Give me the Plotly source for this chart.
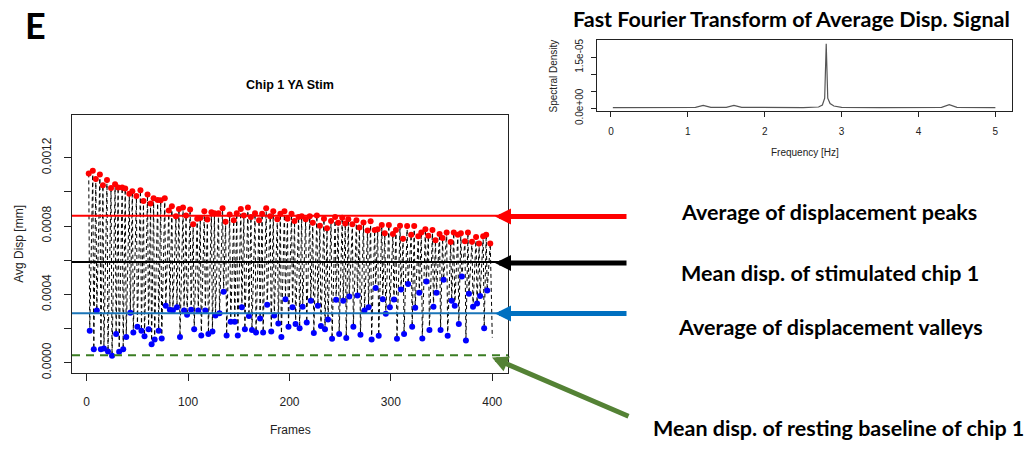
import plotly.graph_objects as go

# ---------------- data ----------------
peak_frames = [2, 6, 9, 13, 16, 20, 24, 28, 31, 35, 38, 42, 45, 49, 53, 56, 60, 63, 66, 70,
               73, 77, 81, 84, 88, 91, 95, 98, 102, 105, 109, 112, 116, 119, 123, 126, 130, 134, 137, 141,
               145, 148, 152, 155, 159, 162, 166, 170,
               173, 177, 181, 184, 188, 191, 195, 198, 202, 205, 209, 212, 216, 220, 223, 227, 230, 234, 237, 241,
               245, 248, 252, 255, 258, 262, 266, 269, 273, 277, 280, 284, 287, 291, 294, 298, 302, 305, 309, 312,
               316, 320, 323, 327, 330, 334, 337, 341, 344, 348, 351, 355, 359, 362, 366, 369, 373, 376, 380, 384,
               387, 391, 394, 398]
peak_values = [0.001108, 0.001123, 0.001075, 0.001102, 0.001038, 0.001070, 0.001023, 0.001045, 0.001026, 0.001026,
               0.001019, 0.000989, 0.001004, 0.000975, 0.001009, 0.000947, 0.000985, 0.000932, 0.000962, 0.000953,
               0.000951, 0.000962, 0.000891, 0.000915, 0.000857, 0.000900, 0.000909, 0.000862, 0.000896, 0.000811,
               0.000843, 0.000847, 0.000887, 0.000838, 0.000881, 0.000875, 0.000875, 0.000904, 0.000825, 0.000868,
               0.000834, 0.000875, 0.000900, 0.000862, 0.000909, 0.000853, 0.000875, 0.000834,
               0.000872, 0.000904, 0.000857, 0.000887, 0.000840, 0.000872, 0.000887, 0.000843, 0.000872, 0.000830,
               0.000853, 0.000857, 0.000840, 0.000857, 0.000819, 0.000862, 0.000802, 0.000843, 0.000787, 0.000830,
               0.000853, 0.000819, 0.000849, 0.000815, 0.000840, 0.000811, 0.000834, 0.000792, 0.000821, 0.000774,
               0.000828, 0.000777, 0.000781, 0.000806, 0.000758, 0.000806, 0.000753, 0.000777, 0.000802, 0.000725,
               0.000800, 0.000749, 0.000800, 0.000740, 0.000762, 0.000781, 0.000743, 0.000777, 0.000717, 0.000753,
               0.000730, 0.000762, 0.000706, 0.000762, 0.000749, 0.000758, 0.000711, 0.000762, 0.000708, 0.000736,
               0.000698, 0.000740, 0.000749, 0.000698]

valley_frames = [3, 7, 10, 14, 17, 21, 25, 29, 32, 36, 39, 43, 46, 50, 54, 57, 61, 64, 67, 71,
                 74, 78, 82, 85, 89, 92, 96, 99, 103, 106, 110, 113, 117, 120, 124, 127, 131, 135, 138, 142,
                 146, 149, 153, 156, 160, 163, 167, 171,
                 174, 178, 182, 185, 189, 192, 196, 199, 203, 206, 210, 213, 217, 221, 224, 228, 231, 235, 238, 242,
                 246, 249, 253, 256, 259, 263, 267, 270, 274, 278, 281, 285, 288, 292, 295, 299, 303, 306, 310, 313,
                 317, 321, 324, 328, 331, 335, 338, 342, 345, 349, 352, 356, 360, 363, 367, 370, 374, 377, 381, 385,
                 388, 392, 395]
valley_values = [0.000187, 0.000079, 0.000306, 0.000079, 0.000083, 0.000066, 0.000041, 0.000168, 0.000064, 0.000079,
                 0.000151, 0.000292, 0.000177, 0.000211, 0.000187, 0.000155, 0.000196, 0.000108, 0.000136, 0.000187,
                 0.000142, 0.000334, 0.000310, 0.000306, 0.000324, 0.000151, 0.000306, 0.000281, 0.000310, 0.000196,
                 0.000306, 0.000160, 0.000306, 0.000168, 0.000183, 0.000277, 0.000289, 0.000415, 0.000160, 0.000240,
                 0.000240, 0.000160, 0.000324, 0.000196, 0.000274, 0.000192, 0.000177, 0.000259,
                 0.000177, 0.000340, 0.000183, 0.000277, 0.000230, 0.000151, 0.000372, 0.000211, 0.000324, 0.000226,
                 0.000202, 0.000328, 0.000236, 0.000362, 0.000174, 0.000334, 0.000215, 0.000196, 0.000253, 0.000140,
                 0.000368, 0.000168, 0.000362, 0.000145, 0.000387, 0.000211, 0.000394, 0.000164, 0.000306, 0.000324,
                 0.000136, 0.000438, 0.000158, 0.000372, 0.000287, 0.000324, 0.000370, 0.000140, 0.000428, 0.000168,
                 0.000460, 0.000211, 0.000321, 0.000409, 0.000142, 0.000475, 0.000192, 0.000328, 0.000409, 0.000192,
                 0.000485, 0.000158, 0.000362, 0.000334, 0.000226, 0.000504, 0.000130, 0.000404, 0.000328, 0.000347,
                 0.000391, 0.000202, 0.000423]

end_frame = 400
end_value = 0.000147

peak_mean = 0.000860        # average of displacement peaks
stim_mean = 0.000589        # mean disp. of stimulated chip
valley_mean = 0.000289      # average of displacement valleys
rest_mean = 0.0000436       # resting baseline

x_ticks = [0, 100, 200, 300, 400]
y_ticks = [0.0, 0.0002, 0.0004, 0.0006, 0.0008, 0.0010, 0.0012]
y_tick_text = ["0.0000", "", "0.0004", "", "0.0008", "", "0.0012"]

fft_freq = [0.025, 0.5, 1.0, 1.1, 1.2, 1.3, 1.5, 1.6, 1.7, 2.0, 2.5, 2.7, 2.75, 2.78, 2.80,
            2.82, 2.85, 2.9, 3.0, 3.5, 3.9, 3.95, 4.0, 4.3, 4.4, 4.5, 5.0]
fft_density = [2e-7, 2e-7, 2e-7, 3e-7, 9e-7, 3e-7, 3e-7, 9e-7, 3e-7, 2e-7, 2e-7, 4e-7, 1.0e-6, 3.0e-6, 1.9e-5,
               3.0e-6, 1.4e-6, 7e-7, 3e-7, 2e-7, 2e-7, 4e-7, 2e-7, 3e-7, 1.1e-6, 3e-7, 2e-7]
fft_x_ticks = [0, 1, 2, 3, 4, 5]
fft_y_ticks = [0.0, 5e-6, 1e-5, 1.5e-5]
fft_y_text = ["0.0e+00", "", "", "1.5e-05"]

right_labels = ["Average of displacement peaks", "Mean disp. of stimulated chip 1",
                "Average of displacement valleys", "Mean disp. of resting baseline of chip 1"]

# ---------------- build ----------------
W, H = 1029, 457
def px(x):
    return x / W
def py(y):
    return 1 - y / H

series = sorted(list(zip(peak_frames, peak_values)) + list(zip(valley_frames, valley_values))
                + [(end_frame, end_value)])
ser_x = [s[0] for s in series]
ser_y = [s[1] for s in series]

RFONT = "Liberation Sans, Arial, sans-serif"
SFONT = "Lato, Calibri, sans-serif"

fig = go.Figure()
fig.add_trace(go.Scatter(x=ser_x, y=ser_y, mode="lines",
                         line=dict(color="black", width=1, dash="4px,3px"),
                         xaxis="x", yaxis="y", showlegend=False))
fig.add_trace(go.Scatter(x=peak_frames, y=peak_values, mode="markers",
                         marker=dict(color="#FF0000", size=6), xaxis="x", yaxis="y", showlegend=False))
fig.add_trace(go.Scatter(x=valley_frames, y=valley_values, mode="markers",
                         marker=dict(color="#0000FF", size=6), xaxis="x", yaxis="y", showlegend=False))
fig.add_trace(go.Scatter(x=fft_freq, y=fft_density, mode="lines",
                         line=dict(color="#555555", width=1.2), xaxis="x2", yaxis="y2", showlegend=False))

shapes = []
for val, col, dash in [(peak_mean, "#FF0000", "solid"), (stim_mean, "#000000", "solid"),
                       (valley_mean, "#1A75B8", "solid"), (rest_mean, "#3B7D23", "8px,6px")]:
    shapes.append(dict(type="line", xref="x domain", x0=0, x1=1, yref="y", y0=val, y1=val,
                       line=dict(color=col, width=2, dash=dash), layer="above"))

axis_common = dict(showline=True, mirror=True, linecolor="#222", linewidth=1, ticks="outside",
                   tickcolor="#222", showgrid=False, zeroline=False)

annotations = []
# arrows
for yy, col in [(222.7, "#FF0000"), (271, "#000000"), (323, "#0070C0")]:
    annotations.append(dict(x=px(495), y=py(yy), xref="paper", yref="paper", text="", showarrow=True,
                            ax=628 - 495, ay=0, arrowhead=2, arrowwidth=5, arrowsize=0.64,
                            arrowcolor=col, standoff=0))
annotations.append(dict(x=px(492), y=py(368.7), xref="paper", yref="paper", text="", showarrow=True,
                        ax=630 - 492, ay=428 - 368.7, arrowhead=2, arrowwidth=5, arrowsize=0.64,
                        arrowcolor="#548235", standoff=0))
# right labels
for (xc, yc), t in zip([(829, 218), (830, 281), (830, 337), (838, 441)], right_labels):
    annotations.append(dict(x=px(xc), y=py(yc), xref="paper", yref="paper", text="<b>%s</b>" % t,
                            showarrow=False, xanchor="center", yanchor="middle",
                            font=dict(family=SFONT, size=21.5, color="black")))
# titles
annotations.append(dict(x=px(35), y=py(25), xref="paper", yref="paper", text="<b>E</b>", showarrow=False,
                        xanchor="center", yanchor="middle", font=dict(family=SFONT, size=36, color="black")))
annotations.append(dict(x=px(290), y=py(87), xref="paper", yref="paper", text="<b>Chip 1 YA Stim</b>",
                        showarrow=False, xanchor="center", yanchor="middle",
                        font=dict(family=RFONT, size=12.5, color="black")))
annotations.append(dict(x=px(791), y=py(19), xref="paper", yref="paper",
                        text="<b>Fast Fourier Transform of Average Disp. Signal</b>",
                        showarrow=False, xanchor="center", yanchor="middle",
                        font=dict(family=SFONT, size=21.5, color="black")))
# axis titles
annotations.append(dict(x=px(290), y=py(444), xref="paper", yref="paper", text="Frames", showarrow=False,
                        xanchor="center", yanchor="middle",
                        font=dict(family=RFONT, size=12, color="#222")))
annotations.append(dict(x=px(19), y=py(251), xref="paper", yref="paper", text="Avg Disp [mm]", showarrow=False,
                        textangle=-90, xanchor="center", yanchor="middle",
                        font=dict(family=RFONT, size=12, color="#222")))
annotations.append(dict(x=px(805), y=py(157), xref="paper", yref="paper", text="Frequency [Hz]",
                        showarrow=False, xanchor="center", yanchor="middle",
                        font=dict(family=RFONT, size=10, color="#222")))
annotations.append(dict(x=px(553), y=py(78), xref="paper", yref="paper", text="Spectral Density",
                        showarrow=False, textangle=-90, xanchor="center", yanchor="middle",
                        font=dict(family=RFONT, size=10, color="#222")))

fig.update_layout(
    width=W, height=H, margin=dict(l=0, r=0, t=0, b=0),
    paper_bgcolor="white", plot_bgcolor="white", showlegend=False,
    xaxis=dict(domain=[px(72), px(508)], range=[-14.5, 415.5], tickvals=x_ticks, ticklen=7,
               tickfont=dict(family=RFONT, size=12, color="#222"), ticklabelstandoff=10, anchor="y",
               **axis_common),
    yaxis=dict(domain=[py(385), py(118)], range=[-0.0000623, 0.001449], tickvals=y_ticks,
               ticktext=y_tick_text, tickangle=-90, ticklen=7, ticklabelstandoff=8,
               tickfont=dict(family=RFONT, size=12, color="#222"), anchor="x", **axis_common),
    xaxis2=dict(domain=[px(596.7), px(1012.3)], range=[-0.185, 5.22], tickvals=fft_x_ticks, ticklen=5,
                tickfont=dict(family=RFONT, size=10, color="#222"), ticklabelstandoff=6, anchor="y2",
                **axis_common),
    yaxis2=dict(domain=[py(114), py(40.7)], range=[-0.85e-6, 2.0e-5], tickvals=fft_y_ticks,
                ticktext=fft_y_text, tickangle=-90, ticklen=5, ticklabelstandoff=4,
                tickfont=dict(family=RFONT, size=10, color="#222"), anchor="x2", **axis_common),
    shapes=shapes, annotations=annotations,
)

fig.write_html("out.html")
